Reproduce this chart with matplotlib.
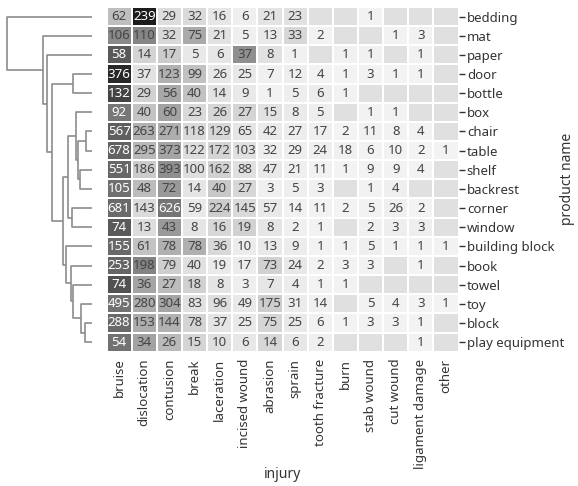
import numpy as np
import matplotlib
matplotlib.use("Agg")
import matplotlib.pyplot as plt
from matplotlib.colors import LinearSegmentedColormap

plt.rcParams['font.family'] = ['Noto Sans', 'DejaVu Sans']

nan = np.nan
injuries = ["bruise", "dislocation", "contusion", "break", "laceration",
            "incised wound", "abrasion", "sprain", "tooth fracture", "burn",
            "stab wound", "cut wound", "ligament damage", "other"]

products = ["bedding", "mat", "paper", "door", "bottle", "box", "chair",
            "table", "shelf", "backrest", "corner", "window",
            "building block", "book", "towel", "toy", "block",
            "play equipment"]

bedding        = [62, 239, 29, 32, 16, 6, 21, 23, nan, nan, 1, nan, nan, nan]
mat            = [106, 110, 32, 75, 21, 5, 13, 33, 2, nan, nan, 1, 3, nan]
paper          = [58, 14, 17, 5, 6, 37, 8, 1, nan, 1, 1, nan, 1, nan]
door           = [376, 37, 123, 99, 26, 25, 7, 12, 4, 1, 3, 1, 1, nan]
bottle         = [132, 29, 56, 40, 14, 9, 1, 5, 6, 1, nan, nan, nan, nan]
box            = [92, 40, 60, 23, 26, 27, 15, 8, 5, nan, 1, 1, nan, nan]
chair          = [567, 263, 271, 118, 129, 65, 42, 27, 17, 2, 11, 8, 4, nan]
table          = [678, 295, 373, 122, 172, 103, 32, 29, 24, 18, 6, 10, 2, 1]
shelf          = [551, 186, 393, 100, 162, 88, 47, 21, 11, 1, 9, 9, 4, nan]
backrest       = [105, 48, 72, 14, 40, 27, 3, 5, 3, nan, 1, 4, nan, nan]
corner         = [681, 143, 626, 59, 224, 145, 57, 14, 11, 2, 5, 26, 2, nan]
window         = [74, 13, 43, 8, 16, 19, 8, 2, 1, nan, 2, 3, 3, nan]
building_block = [155, 61, 78, 78, 36, 10, 13, 9, 1, 1, 5, 1, 1, 1]
book           = [253, 198, 79, 40, 19, 17, 73, 24, 2, 3, 3, nan, 1, nan]
towel          = [74, 36, 27, 18, 8, 3, 7, 4, 1, 1, nan, nan, nan, nan]
toy            = [495, 280, 304, 83, 96, 49, 175, 31, 14, nan, 5, 4, 3, 1]
block          = [288, 153, 144, 78, 37, 25, 75, 25, 6, 1, 3, 3, 1, nan]
play_equipment = [54, 34, 26, 15, 10, 6, 14, 6, 2, nan, nan, nan, 1, nan]

rows = [bedding, mat, paper, door, bottle, box, chair, table, shelf,
        backrest, corner, window, building_block, book, towel, toy, block,
        play_equipment]

# row dendrogram merges: (node, child_a, child_b, distance)
links = [
    ("A", "chair", "table", 6),
    ("H", "block", "play equipment", 7),
    ("I", "toy", "H", 11),
    ("B", "shelf", "backrest", 12),
    ("C", "A", "B", 14),
    ("D", "box", "C", 16),
    ("DB", "door", "bottle", 19),
    ("J", "towel", "I", 19),
    ("E", "corner", "window", 20),
    ("K", "book", "J", 21),
    ("G6", "D", "E", 24),
    ("F", "building block", "K", 26),
    ("G5", "G6", "F", 29),
    ("G4", "DB", "G5", 40),
    ("G3", "paper", "G4", 45),
    ("G2", "mat", "G3", 49),
    ("root", "bedding", "G2", 85),
]

data = np.array(rows, dtype=float)
norm = data / np.nansum(data, axis=1, keepdims=True)
masked = np.ma.masked_invalid(norm)

W, H = 578, 486
fig = plt.figure(figsize=(W / 100, H / 100), dpi=100)

hx0, hx1, hy0, hy1 = 106.5, 458.5, 7.0, 351.7
ax = fig.add_axes([hx0 / W, 1 - hy1 / H, (hx1 - hx0) / W, (hy1 - hy0) / H])
dax = fig.add_axes([0 / W, 1 - hy1 / H, 92 / W, (hy1 - hy0) / H])

cmap = LinearSegmentedColormap.from_list(
    "g", ["#f3f3f3", "#cdcdcd", "#999999", "#6c6c6c", "#444444", "#1c1c1c"])
cmap.set_bad("#e0e0e0")
vmax = 0.56
ax.set_facecolor("#e0e0e0")
mesh = ax.pcolormesh(masked, cmap=cmap, vmin=0, vmax=vmax,
                     edgecolors="white", linewidth=1.2)
nr, nc = data.shape
ax.set_xlim(0, nc)
ax.set_ylim(nr, 0)

for i in range(nr):
    for j in range(nc):
        v = data[i, j]
        if np.isnan(v):
            continue
        rgba = cmap(min(norm[i, j] / vmax, 1))
        lum = 0.299 * rgba[0] + 0.587 * rgba[1] + 0.114 * rgba[2]
        col = "white" if lum < 0.47 else "#444444"
        ax.text(j + 0.5, i + 0.5, str(int(v)), ha="center", va="center",
                fontsize=9.5, color=col)

ax.set_xticks(np.arange(nc) + 0.5)
ax.set_xticklabels(injuries, rotation=90, fontsize=9.5, color="#333333")
ax.set_yticks(np.arange(nr) + 0.5)
ax.set_yticklabels(products, fontsize=9.5, color="#333333")
ax.yaxis.tick_right()
ax.yaxis.set_label_position("right")
ax.tick_params(axis="x", length=0, pad=5)
ax.tick_params(axis="y", length=4, width=1, color="#333333", pad=2)
ax.set_xlabel("injury", fontsize=10, color="#333333")
ax.set_ylabel("product name", fontsize=10, color="#333333")
ax.xaxis.set_label_coords(0.5, -0.335)
ax.yaxis.set_label_coords(1.288, 0.5)
for s in ax.spines.values():
    s.set_visible(False)

# dendrogram
pos = {p: (i + 0.5, 0.0) for i, p in enumerate(products)}
for node, a, b, d in links:
    ya, da = pos[a]
    yb, db = pos[b]
    dax.plot([da, d, d, db], [ya, ya, yb, yb], color="#8c8c8c", lw=1.2,
             solid_capstyle="butt")
    pos[node] = ((ya + yb) / 2, d)
dax.set_xlim(92, 0)
dax.set_ylim(nr, 0)
dax.axis("off")

fig.savefig("out.png", dpi=100, facecolor="white")
